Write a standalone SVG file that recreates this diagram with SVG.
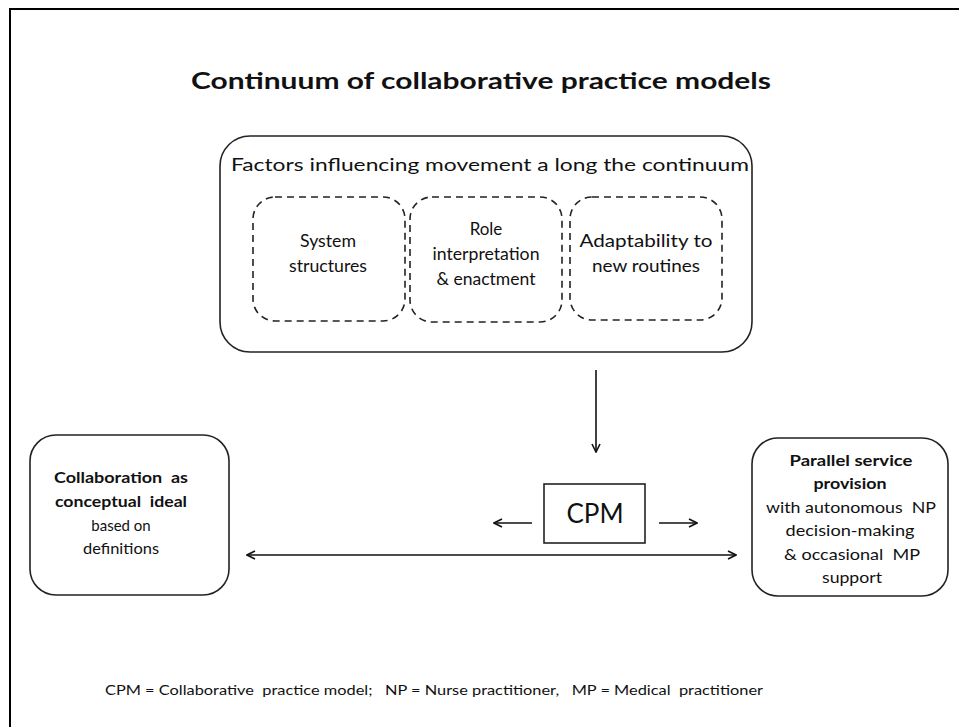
<svg xmlns="http://www.w3.org/2000/svg" width="959" height="727" viewBox="0 0 959 727">
<style>
text{font-family:Lato,"Open Sans","Liberation Sans",sans-serif;fill:#111;text-anchor:middle;white-space:pre}
.solid{fill:#fff;stroke:#222;stroke-width:1.6}
.dash{fill:none;stroke:#222;stroke-width:1.6;stroke-dasharray:7 5}
.ln{stroke:#111;stroke-width:1.6;fill:none}
.b{font-weight:bold}
.s{font-size:15px}
.m{font-size:17px}
</style>
<defs>
<marker id="ah" viewBox="0 0 10 10" refX="9" refY="5" markerWidth="10" markerHeight="10" markerUnits="userSpaceOnUse" orient="auto-start-reverse">
<path d="M1,1 L9,5 L1,9" fill="none" stroke="#111" stroke-width="1.6"/>
</marker>
</defs>
<rect width="959" height="727" fill="#fff"/>
<rect x="10" y="9" width="1000" height="1000" fill="none" stroke="#000" stroke-width="2"/>
<text x="481" y="89" class="b" font-size="23" textLength="580" lengthAdjust="spacingAndGlyphs">Continuum of collaborative practice models</text>

<g id="factors">
<rect class="solid" x="220" y="136" width="532" height="216" rx="30"/>
<text x="490" y="171" font-size="18" textLength="518" lengthAdjust="spacingAndGlyphs">Factors influencing movement a long the continuum</text>
</g>
<g id="system">
<rect class="dash" x="253" y="197" width="152" height="124" rx="22"/>
<text x="328" y="247" class="m" textLength="56" lengthAdjust="spacingAndGlyphs">System</text>
<text x="328" y="272" class="m" textLength="78" lengthAdjust="spacingAndGlyphs">structures</text>
</g>
<g id="role">
<rect class="dash" x="410" y="197" width="152" height="125" rx="22"/>
<text x="486" y="235" class="m">Role</text>
<text x="486" y="260" class="m" textLength="107" lengthAdjust="spacingAndGlyphs">interpretation</text>
<text x="486" y="285" class="m" textLength="99" lengthAdjust="spacingAndGlyphs">&amp; enactment</text>
</g>
<g id="adapt">
<rect class="dash" x="570" y="197" width="152" height="123" rx="22"/>
<text x="646" y="247" class="m" textLength="133" lengthAdjust="spacingAndGlyphs">Adaptability to</text>
<text x="646" y="272" class="m" textLength="108" lengthAdjust="spacingAndGlyphs">new routines</text>
</g>

<g id="ideal">
<rect class="solid" x="30" y="435" width="199" height="160" rx="26"/>
<text x="121" y="483" class="b s" textLength="134" lengthAdjust="spacingAndGlyphs">Collaboration  as</text>
<text x="121" y="507" class="b s" textLength="132" lengthAdjust="spacingAndGlyphs">conceptual  ideal</text>
<text x="121" y="531" class="s">based on</text>
<text x="121" y="554" class="s" textLength="76" lengthAdjust="spacingAndGlyphs">definitions</text>
</g>

<g id="cpm">
<rect x="544" y="484" width="101" height="59" fill="#fff" stroke="#222" stroke-width="1.6"/>
<text x="595" y="523" font-size="26">CPM</text>
</g>

<g id="parallel">
<rect class="solid" x="752" y="438" width="196" height="158" rx="26"/>
<text x="851" y="466" class="b s" textLength="123" lengthAdjust="spacingAndGlyphs">Parallel service</text>
<text x="850" y="489" class="b s" textLength="73" lengthAdjust="spacingAndGlyphs">provision</text>
<text x="851" y="513" class="s" textLength="170" lengthAdjust="spacingAndGlyphs">with autonomous  NP</text>
<text x="850" y="536" class="s" textLength="129" lengthAdjust="spacingAndGlyphs">decision-making</text>
<text x="852" y="560" class="s" textLength="136" lengthAdjust="spacingAndGlyphs">&amp; occasional  MP</text>
<text x="852" y="583" class="s" textLength="60" lengthAdjust="spacingAndGlyphs">support</text>
</g>

<g id="connectors">
<line class="ln" x1="596" y1="370" x2="596" y2="452" marker-end="url(#ah)"/>
<line class="ln" x1="532" y1="523" x2="494" y2="523" marker-end="url(#ah)"/>
<line class="ln" x1="659" y1="523" x2="697" y2="523" marker-end="url(#ah)"/>
<line class="ln" x1="247" y1="555" x2="736" y2="555" marker-start="url(#ah)" marker-end="url(#ah)"/>
</g>

<text x="434" y="695" font-size="12.5" textLength="658" lengthAdjust="spacingAndGlyphs">CPM = Collaborative  practice model;   NP = Nurse practitioner,   MP = Medical  practitioner</text>
</svg>
